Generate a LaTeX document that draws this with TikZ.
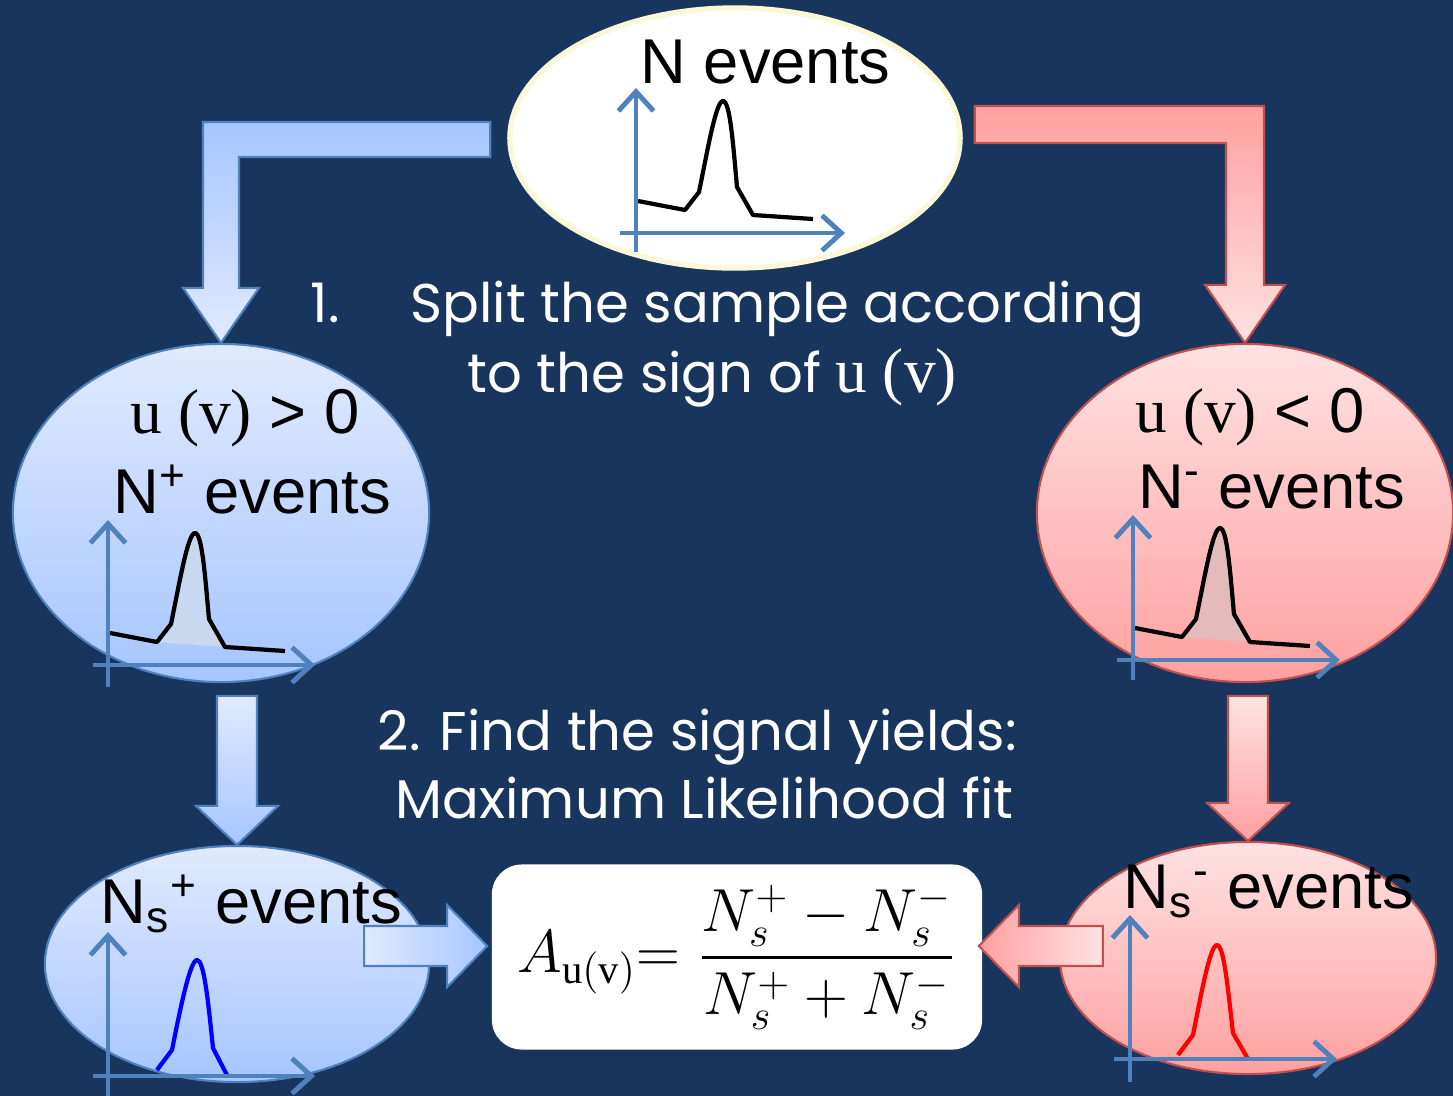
\documentclass[tikz,border=0pt]{standalone}
\usepackage{amsmath}
\usepackage{fontspec}
\setmainfont{Liberation Serif}
\setsansfont{Liberation Sans}
\newfontfamily\handfont{Poppins}
\usetikzlibrary{
	positioning,
	arrows.meta,
	shapes.geometric,
	calc
}
\definecolor{SlideNavy}{RGB}{24,54,93}
\definecolor{AxisBlue}{RGB}{79,129,189}
\definecolor{EdgeRed}{RGB}{192,80,77}
\definecolor{BlueDeep}{RGB}{166,198,255}
\definecolor{BlueLight}{RGB}{224,234,255}
\definecolor{RedDeep}{RGB}{255,160,160}
\definecolor{RedLight}{RGB}{255,226,226}
\definecolor{Cream}{RGB}{250,248,215}
\definecolor{PeakBlue}{RGB}{200,216,238}
\definecolor{PeakRed}{RGB}{228,186,186}

\tikzset{
	lbl/.style={font=\sffamily\fontsize{18}{20}\selectfont, inner sep=0pt, anchor=base west},
	note/.style={font=\handfont\fontsize{15.5}{19}\selectfont, text=white, inner sep=0pt, anchor=base west},
	sample/.style={ellipse, inner sep=0pt, line width=0.6pt},
	bluefill/.style={draw=AxisBlue, line width=0.6pt},
	redfill/.style={draw=EdgeRed, line width=0.6pt},
	plotaxis/.style={AxisBlue, line width=1.4pt, -{Straight Barb[length=5.5pt,width=10pt]}},
	curve/.style={line width=1.2pt, line join=round},
	peakplot/.pic={
		\fill[pic actions] (49,-23) -- (63,-41) .. controls (72,-85) and (80,-132) .. (87,-132) .. controls (94,-132) and (97,-90) .. (101,-46) -- (117,-18) -- cycle;
		\draw[curve] (2,-32) -- (49,-23) -- (63,-41) .. controls (72,-85) and (80,-132) .. (87,-132) .. controls (94,-132) and (97,-90) .. (101,-46) -- (117,-18) -- (177,-14);
	}
}

\begin{document}
\begin{tikzpicture}[x=0.01cm, y=-0.01cm]
	
	% Slide
	\fill[SlideNavy] (0,0) rectangle (1453,1096);
	\useasboundingbox (0,0) rectangle (1453,1096);
	
	% Samples
	\node[sample, fill=white, draw=Cream, line width=1.5pt, minimum width=4.5cm, minimum height=2.6cm] (all) at (735,138) {};
	\node[sample, draw=AxisBlue, top color=BlueLight, bottom color=BlueDeep, minimum width=4.16cm, minimum height=3.38cm] (plus) at (221,513) {};
	\node[sample, draw=EdgeRed, top color=RedLight, bottom color=RedDeep, minimum width=4.16cm, minimum height=3.38cm] (minus) at (1245,513) {};
	\node[sample, draw=AxisBlue, top color=BlueLight, bottom color=BlueDeep, minimum width=3.84cm, minimum height=2.36cm] (splus) at (237,964) {};
	\node[sample, draw=EdgeRed, top color=RedLight, bottom color=RedDeep, minimum width=3.76cm, minimum height=2.32cm] (sminus) at (1248,958) {};
	
	% Asymmetry
	\node[fill=white, rounded corners=0.3cm, minimum width=4.9cm, minimum height=1.85cm] (asym) at (737,957)
	{\fontsize{16.5}{20}\selectfont $A_{\mathrm{u(v)}}\mkern-5mu= \dfrac{N_s^+ - N_s^-}{N_s^+ + N_s^-}$};
	
	% Split arrows
	\path[bluefill, top color=BlueDeep, bottom color=BlueLight]
	($(all.west)+(-17,-16)$) -| ($(plus.north)+(-18,-55)$) -- ($(plus.north)+(-38,-55)$) -- (plus.north)
	-- ($(plus.north)+(38,-55)$) -- ($(plus.north)+(18,-55)$) |- ($(all.west)+(-17,19)$) -- cycle;
	
	\path[redfill, top color=RedDeep, bottom color=RedLight]
	($(all.east)+(12,-32)$) -| ($(minus.north)+(19,-58)$) -- ($(minus.north)+(40,-58)$) -- (minus.north)
	-- ($(minus.north)+(-40,-58)$) -- ($(minus.north)+(-19,-58)$) |- ($(all.east)+(12,5)$) -- cycle;
	
	% Fit arrows
	\path[bluefill, top color=BlueLight, bottom color=BlueDeep]
	($(splus.north)+(-20,-149)$) -- ($(splus.north)+(-20,-39)$) -- ($(splus.north)+(-41,-39)$) -- (splus.north)
	-- ($(splus.north)+(41,-39)$) -- ($(splus.north)+(20,-39)$) -- ($(splus.north)+(20,-149)$) -- cycle;
	
	\path[redfill, top color=RedLight, bottom color=RedDeep]
	($(sminus.north)+(-20,-145)$) -- ($(sminus.north)+(-20,-38)$) -- ($(sminus.north)+(-41,-38)$) -- (sminus.north)
	-- ($(sminus.north)+(41,-38)$) -- ($(sminus.north)+(20,-38)$) -- ($(sminus.north)+(20,-145)$) -- cycle;
	
	% Yield arrows
	\coordinate (inL) at ($(asym.west)+(-4,-11)$);
	\coordinate (inR) at ($(asym.east)+(-4,-11)$);
	
	\path[bluefill, left color=BlueLight, right color=BlueDeep]
	($(inL)+(-123,-20)$) -- ($(inL)+(-40,-20)$) -- ($(inL)+(-40,-41)$) -- (inL)
	-- ($(inL)+(-40,41)$) -- ($(inL)+(-40,20)$) -- ($(inL)+(-123,20)$) -- cycle;
	
	\path[redfill, left color=RedDeep, right color=RedLight]
	($(inR)+(124,-20)$) -- ($(inR)+(40,-20)$) -- ($(inR)+(40,-41)$) -- (inR)
	-- ($(inR)+(40,41)$) -- ($(inR)+(40,20)$) -- ($(inR)+(124,20)$) -- cycle;
	
	% Plots
	\pic[fill=white] at (636,233) {peakplot};
	\pic[fill=PeakBlue] at (108,665) {peakplot};
	\pic[fill=PeakRed] at (1133,660) {peakplot};
	\draw[curve, blue] (157,1070) -- (172,1050) .. controls (180,1010) and (190,960) .. (197,960)
	.. controls (204,960) and (208,1000) .. (213,1048) -- (228,1077);
	\draw[curve, red] (1178,1055) -- (1193,1035) .. controls (1201,995) and (1210,945) .. (1217,945)
	.. controls (1224,945) and (1228,990) .. (1233,1033) -- (1248,1059);
	
	\draw[plotaxis] (636,252) -- (636,88);
	\draw[plotaxis] (620,233) -- (845,233);
	\draw[plotaxis] (108,687) -- (108,520);
	\draw[plotaxis] (93,665) -- (315,665);
	\draw[plotaxis] (1133,680) -- (1133,515);
	\draw[plotaxis] (1117,660) -- (1340,660);
	\draw[plotaxis] (108,1096) -- (108,932);
	\draw[plotaxis] (93,1076) -- (315,1076);
	\draw[plotaxis] (1130,1082) -- (1130,915);
	\draw[plotaxis] (1114,1059) -- (1337,1059);
	
	% Labels
	\node[lbl] (alltxt) at (640,83) {N events};
	\node[lbl] (plustop) at (130,433) {\textrm{u (v)} > 0};
	\node[lbl] (plustxt) at (113,513) {N\textsuperscript{+} events};
	\node[lbl] (minustop) at (1135,432) {\textrm{u (v)} < 0};
	\node[lbl] (minustxt) at (1138,508) {N\textsuperscript{-} events};
	\node[lbl] (splustxt) at (100,923) {N\textsubscript{s}\textsuperscript{+} events};
	\node[lbl] (sminustxt) at (1123,908) {N\textsubscript{s}\textsuperscript{-} events};
	
	% Steps
	\node[note] (splitnum) at (310,322) {1.};
	\node[note] (split) at (410,322) {Split the sample according};
	\node[note] (splitb) at (467,392) {to the sign of \textrm{\fontsize{18}{20}\selectfont u (v)}};
	\node[note] (fit) at (377,750) {2. Find the signal yields:};
	\node[note] (fitb) at (395,818) {Maximum Likelihood fit};
	
\end{tikzpicture}
\end{document}
